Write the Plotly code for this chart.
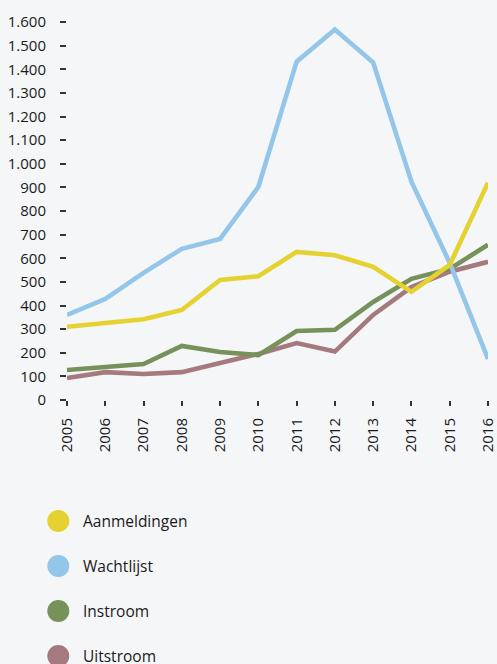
import plotly.graph_objects as go

years = [2005, 2006, 2007, 2008, 2009, 2010, 2011, 2012, 2013, 2014, 2015, 2016]
aanmeldingen = [310, 326, 342, 381, 508, 524, 627, 613, 564, 458, 572, 920]
wachtlijst = [360, 428, 538, 640, 682, 902, 1432, 1568, 1428, 924, 580, 174]
instroom = [127, 140, 152, 229, 203, 190, 292, 297, 415, 513, 555, 657]
uitstroom = [93, 118, 110, 118, 157, 195, 241, 205, 360, 478, 543, 585]

series = [
    ("Aanmeldingen", aanmeldingen, "#E5D230"),
    ("Wachtlijst", wachtlijst, "#93C6E9"),
    ("Instroom", instroom, "#76925A"),
    ("Uitstroom", uitstroom, "#A57A7E"),
]

y_ticks = list(range(0, 1700, 100))

FONT = "Open Sans"
fig = go.Figure()
for name, vals, col in series[::-1]:
    fig.add_trace(go.Scatter(x=years, y=vals, mode="lines", name=name,
                             line=dict(color=col, width=4.6), showlegend=False))

bg = "#F5F6F8"
plot_left, plot_right, plot_top, plot_bottom = 67, 488, 22, 400
W, H = 497, 664
fig.update_layout(
    width=W, height=H,
    margin=dict(l=plot_left, r=W - plot_right, t=plot_top, b=H - plot_bottom, autoexpand=False),
    paper_bgcolor=bg, plot_bgcolor=bg,
    separators=",.",
    font=dict(family=FONT, size=15, color="#1a1a1a"),
    showlegend=False,
)
fig.update_xaxes(range=[2005, 2016], tickvals=years, ticktext=[str(y) for y in years],
                 tickangle=-90, ticks="outside", ticklen=5, tickwidth=1.5, tickcolor="#333",
                 showgrid=False, zeroline=False, showline=False, automargin=False,
                 ticklabelstandoff=6,
                 tickfont=dict(size=15, family=FONT, color="#1a1a1a"))
fig.update_yaxes(range=[0, 1600], tickvals=y_ticks, tickformat=",d",
                 ticks="outside", ticklen=6, tickwidth=1.5, tickcolor="#333",
                 ticklabelstandoff=11, automargin=False,
                 showgrid=False, zeroline=False, showline=False,
                 tickfont=dict(size=15, family=FONT, color="#1a1a1a"))

# legend drawn as shapes + text
plot_w = plot_right - plot_left
plot_h = plot_bottom - plot_top
leg_y = [521, 566, 611, 656]
for (name, vals, col), ypx in zip(series, leg_y):
    py = (plot_bottom - ypx) / plot_h
    px = (58.3 - plot_left) / plot_w
    fig.add_shape(type="circle", xref="paper", yref="paper",
                  xsizemode="pixel", ysizemode="pixel",
                  xanchor=px, yanchor=py, x0=-11, x1=11, y0=-11, y1=11,
                  fillcolor=col, line=dict(width=0))
    fig.add_annotation(xref="paper", yref="paper", x=(81 - plot_left) / plot_w, y=py,
                       text=name, showarrow=False, xanchor="left", yanchor="middle",
                       font=dict(size=15.5, family=FONT, color="#1a1a1a"))

fig.write_html("out.html", config={"displayModeBar": False},
               post_script="document.body.style.margin='0';document.body.style.overflow='hidden';document.body.style.background='%s';" % bg)
